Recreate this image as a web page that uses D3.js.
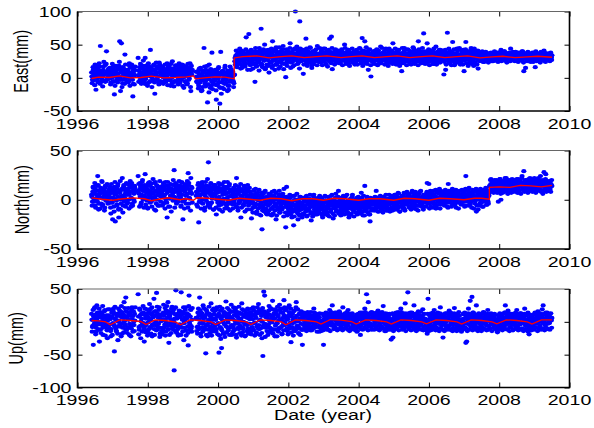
<!DOCTYPE html>
<html>
<head>
<meta charset="utf-8">
<script src="https://cdn.jsdelivr.net/npm/d3@7"></script>
<style>
  body { margin: 0; background: #fff; }
  text { font-family: "Liberation Sans", Arial, sans-serif; fill: #000; }
</style>
</head>
<body>
<svg id="chart" width="594" height="428"></svg>
<script>
// Samples every 0.025 yr from 1996.4; one row = half a year (20 samples), null = data gap.
// Sets "B" and "C" are the samples that fall a third and two thirds of a step later.
const startYear = 1996.4, step = 0.025;

const eastRows = [
  [8,-3,12,5,20,-18,2,15,0,7,48,-6,10,3,24,-5,6,40,-2,11],
  [4,14,-7,9,1,18,-25,6,11,-3,16,2,55,-20,52,8,-2,13,35,5],
  [-6,10,3,22,-1,8,15,-28,5,12,null,null,null,30,2,9,-4,17,6,26],
  [13,30,1,7,-8,18,9,42,4,11,-2,20,-24,6,14,0,8,23,-5,10],
  [3,16,-7,9,12,1,22,-3,7,15,-12,5,25,2,10,-6,18,4,13,-1],
  [8,-4,14,20,2,-15,10,6,17,-8,3,12,22,-20,5,null,null,null,null,9],
  [-5,10,-12,3,15,-20,0,8,45,-9,12,-3,-37,6,20,-15,2,38,-7,4],
  [-10,7,-33,2,14,-6,-39,39,5,-15,9,-2,18,-8,1,11,-18,6,-4,13],
  [-3,6,-8,25,33,18,30,38,22,28,41,15,31,26,36,20,61,29,34,66],
  [27,12,35,22,31,40,-6,28,18,33,25,45,30,74,20,36,27,50,15,32],
  [30,42,8,35,24,38,55,19,33,28,46,22,36,14,31,40,26,34,48,21],
  [36,1,29,40,24,34,52,30,38,17,33,44,100,28,35,22,39,85,31,26],
  [33,6,40,27,59,31,22,37,29,45,34,19,36,28,41,25,32,48,30,35],
  [31,38,24,35,44,29,33,20,39,27,36,59,30,62,13,34,26,41,32,37],
  [29,36,33,22,40,31,27,38,50,25,34,30,42,21,35,28,37,33,26,39],
  [31,24,38,30,35,45,27,33,60,29,36,55,22,32,40,12,34,28,2,37],
  [30,35,26,41,32,20,37,29,34,47,25,33,38,28,31,44,23,36,30,34],
  [33,27,39,52,30,24,36,32,42,28,35,20,31,10,37,29,45,26,34,30],
  [31,36,25,40,33,28,46,22,35,30,38,27,55,32,24,39,29,34,67,31],
  [28,37,52,30,24,41,33,26,35,39,21,32,47,29,36,25,34,42,30,27],
  [33,5,38,12,29,68,31,24,40,35,27,54,32,19,37,30,44,26,34,29],
  [31,36,26,42,10,33,54,28,35,22,38,30,45,27,34,18,32,39,29,36],
  [14,30,35,27,33,38,29,24,34,31,37,26,32,28,35,30,33,25,36,31],
  [33,28,36,30,38,26,42,32,35,29,40,31,27,34,37,30,33,44,29,35],
  [32,27,35,30,38,25,33,29,36,31,40,28,10,34,15,30,37,26,33,31],
  [30,35,27,33,38,16,31,29,36,32,26,34,30,37,28,41,33,29,35,31],
  [32,27,35,30,34]
];
const eastRowsB = [
  [2,9,-4,6,14,0,11,-7,5,17,3,8,-2,12,6,19,-5,9,1,13],
  [7,-1,10,4,15,-6,8,2,12,-3,6,18,0,9,13,-8,4,11,-2,7],
  [3,12,-5,8,16,1,6,-9,10,4,null,null,null,11,5,-3,14,7,0,9],
  [6,-2,11,3,15,8,-6,9,1,13,5,-4,10,7,17,2,-7,8,12,4],
  [9,1,13,-4,7,10,3,16,-2,6,11,0,8,14,-5,5,9,2,18,6],
  [4,11,-3,8,14,1,6,-7,12,3,9,-1,15,5,10,null,null,null,null,2],
  [1,-8,6,12,-3,4,-14,9,0,-5,7,-10,3,11,-2,5,-12,8,-6,2],
  [-4,5,-11,9,-1,3,-15,6,-7,10,0,-9,4,-3,8,-12,2,-6,7,-2],
  [2,-5,4,30,24,35,27,32,21,38,29,33,25,36,28,22,34,30,39,26],
  [33,24,38,29,21,35,27,40,31,23,36,28,34,19,32,37,26,30,41,29],
  [34,26,39,31,23,36,29,42,27,33,20,37,30,35,25,40,32,28,38,30],
  [31,37,26,34,40,29,35,23,38,32,27,36,30,42,33,25,37,31,28,39],
  [35,29,38,31,26,34,40,28,33,37,30,24,36,32,39,27,34,30,36,28],
  [34,28,37,31,25,35,30,39,33,27,36,29,34,31,38,26,33,30,35,32],
  [32,37,28,34,30,39,26,33,36,29,31,35,27,38,32,30,34,28,37,33],
  [33,29,36,31,27,38,32,25,35,30,37,28,33,40,31,34,29,36,30,32],
  [31,36,29,34,27,38,32,30,35,26,33,37,29,34,31,36,28,33,39,30],
  [32,29,35,31,37,27,34,30,38,28,33,36,31,25,35,32,29,37,30,34],
  [33,28,36,30,34,39,29,32,27,35,31,37,28,33,36,30,34,26,32,38],
  [31,35,28,33,37,30,26,34,32,38,29,35,31,27,36,33,30,37,28,34],
  [32,36,29,34,27,31,38,30,35,28,33,37,30,26,34,32,36,29,31,35],
  [33,29,36,31,38,28,32,35,30,34,27,37,31,33,29,36,32,30,35,28],
  [31,34,29,33,36,30,32,28,35,31,34,29,33,37,30,32,35,31,28,34],
  [32,35,30,34,29,36,31,33,37,30,34,28,35,32,31,36,29,33,34,30],
  [33,30,35,31,34,28,36,32,30,35,33,29,34,31,36,30,33,28,35,32],
  [31,34,29,36,32,30,35,33,28,34,31,37,30,33,35,29,32,36,30,34],
  [33,30,34,31]
];
const eastRowsC = [
  [-8,16,4,-11,19,7,-4,13,22,-9,10,1,-13,17,5,-6,21,9,-2,14],
  [15,-10,6,21,-5,11,-12,18,3,-7,13,24,-3,8,-14,16,10,-9,20,1],
  [12,-7,19,-12,6,20,-3,11,-10,17,null,null,null,-6,16,21,-9,4,18,-5],
  [-9,18,6,-12,22,10,-5,15,-14,4,19,-7,12,23,-3,16,-10,20,7,-6],
  [17,-9,5,20,-6,13,-11,18,9,-4,21,-8,14,-13,3,19,-5,11,-10,22],
  [-7,15,3,-12,19,9,-5,16,-10,21,-3,7,-14,18,12,null,null,null,null,-6],
  [9,-16,14,-7,5,-19,11,-4,17,-13,3,18,-10,-22,8,13,-6,-17,10,-2],
  [12,-19,4,-9,16,-14,7,-24,10,-3,-17,15,-8,6,-20,9,-12,17,-5,3],
  [9,-14,5,20,41,16,37,24,44,14,35,19,40,23,17,43,27,12,38,22],
  [19,42,25,14,38,21,45,17,36,24,11,41,22,39,16,43,26,13,37,20],
  [41,18,37,23,44,15,39,26,12,42,20,38,24,46,17,35,22,43,13,37],
  [22,43,18,38,26,45,15,37,24,42,19,36,27,47,21,39,14,44,25,40],
  [42,20,37,25,44,18,39,23,46,26,15,40,21,38,27,43,19,36,24,45],
  [23,41,19,38,26,44,21,36,17,42,25,39,22,45,28,37,20,43,24,40],
  [41,22,38,25,43,19,36,27,45,21,39,24,42,18,37,26,44,23,40,20],
  [24,42,20,37,27,44,22,39,18,41,25,36,46,21,38,26,43,19,37,24],
  [40,21,38,26,43,19,41,24,36,22,45,27,39,20,42,25,37,18,44,23],
  [25,41,21,38,27,44,20,39,23,42,18,37,26,45,22,40,24,36,19,43],
  [42,23,39,20,37,26,44,21,41,24,38,19,43,27,36,22,45,25,40,21],
  [22,40,25,43,19,38,27,41,21,44,24,37,20,39,26,42,23,36,28,41],
  [39,24,42,20,37,26,44,22,40,19,38,25,43,21,36,27,41,23,45,20],
  [24,41,20,38,26,43,22,40,18,37,25,42,21,39,27,44,23,36,20,41],
  [38,25,36,27,40,24,35,28,39,26,37,23,34,29,38,25,36,27,40,26],
  [27,38,24,36,29,39,25,35,28,40,26,37,23,34,30,38,25,36,28,39],
  [37,25,39,27,35,24,38,28,36,26,40,23,34,29,37,25,39,27,35,24],
  [26,38,24,36,28,40,25,35,29,37,23,39,27,34,26,38,24,36,29,37],
  [36,25,38,27]
];

const northRows = [
  [5,-2,12,8,-6,15,2,24,-10,6,10,-4,18,1,9,-8,14,3,7,-3],
  [4,11,-14,7,-20,2,13,-22,6,-5,16,-18,9,-10,3,22,-6,12,0,8],
  [10,-3,15,5,19,-7,8,12,0,14,null,null,null,24,6,17,-5,11,20,3],
  [9,26,2,14,-9,7,18,4,-2,12,21,0,8,-11,15,5,10,-6,13,3],
  [6,14,-4,10,18,1,-18,9,12,-7,16,4,8,20,30,2,11,-3,15,7],
  [3,12,-6,17,-20,9,0,14,5,19,27,-4,10,22,6,null,null,null,null,4],
  [8,15,-23,4,12,-3,18,6,10,-8,14,2,21,38,9,-5,16,3,11,-10],
  [5,13,-15,2,9,-6,15,0,11,-12,7,18,-4,6,12,-9,3,16,-2,8],
  [4,-5,10,1,14,22,-8,6,-2,11,-18,3,8,-6,13,0,5,-10,9,-3],
  [-2,6,-19,3,-8,10,-4,1,-12,7,-1,-15,4,-6,-30,2,-9,8,-3,-14],
  [-5,3,-11,6,-2,-16,1,-7,9,-4,-20,0,-9,5,-13,-1,4,-8,-3,11],
  [-3,-28,13,-8,-1,-14,2,-6,-18,-10,-26,4,-5,-12,0,-20,-7,3,-15,-9],
  [-6,-14,0,-9,3,-17,-4,-11,1,-7,-21,-2,-13,5,-8,-15,-3,-10,2,-6],
  [-4,-10,1,-18,-7,-13,3,-2,-9,-16,0,-6,-12,4,-5,-19,-1,-8,6,-11],
  [-5,9,-12,-2,-8,-15,1,-6,-10,3,-14,-4,-7,-18,0,-9,-3,5,-11,-6],
  [-4,-9,2,-13,-6,0,-10,7,-3,-16,-8,14,-5,-12,1,-7,-15,-22,-2,-9],
  [-5,1,-9,-3,9,-7,-1,-12,3,-6,-2,-10,2,-4,-8,5,-3,-11,0,-5],
  [-3,3,-8,1,-10,5,-5,-1,-9,7,-2,-12,2,-4,-7,4,-9,0,-3,8],
  [-1,5,-7,2,-3,9,-8,3,-2,6,-10,0,4,-6,8,-2,2,-7,5,-1],
  [0,6,17,-3,16,3,-7,5,-1,9,-4,2,-9,7,0,-2,11,-5,4,1],
  [2,-4,7,-1,4,-7,16,3,-3,9,0,-5,5,-2,8,-8,2,6,-3,3],
  [3,-3,8,0,6,-6,24,4,-2,10,1,-5,7,-1,5,-9,3,9,-12,0],
  [-10,4,-4,7,0,-7,3,6,-2,9,-5,2,5,14,20,11,17,8,15,19],
  [12,18,9,-2,16,21,0,13,7,19,15,11,22,14,8,17,12,20,10,16],
  [13,18,9,16,21,11,15,7,19,14,24,10,29,17,12,20,8,16,13,22],
  [15,10,19,12,22,8,17,13,20,11,16,24,14,9,18,28,12,26,15,19],
  [13,17,11,16,14]
];
const northRowsB = [
  [3,8,-2,6,11,0,5,14,-4,9,2,7,-6,10,4,12,-1,6,8,1],
  [6,-3,9,2,12,-7,5,8,-1,11,3,-9,7,0,10,4,13,-2,6,9],
  [5,11,0,8,14,2,-4,9,6,12,null,null,null,7,10,3,15,5,9,12],
  [4,12,7,-1,10,5,14,8,2,11,6,17,3,9,0,12,7,4,10,6],
  [8,3,12,5,-2,10,7,14,1,9,4,11,6,15,3,8,13,0,10,5],
  [7,2,10,5,13,-1,8,4,11,6,15,2,9,7,12,null,null,null,null,8],
  [6,11,2,9,5,14,0,8,12,4,10,7,-3,9,13,5,8,1,11,6],
  [4,9,0,7,12,3,8,-2,10,5,1,9,6,13,2,7,-4,10,4,8],
  [3,7,-1,5,9,2,6,-4,8,1,4,10,0,5,-3,7,2,9,-1,4],
  [1,-4,5,-2,3,-7,2,6,-5,0,4,-8,1,-3,5,-6,2,-1,-9,3],
  [-1,-6,3,-4,1,-9,-2,4,-7,0,-5,2,-10,-3,1,-6,-1,-8,3,-4],
  [-2,-7,1,-5,-10,-3,2,-8,-4,-12,-1,-6,0,-9,-4,-2,-11,-5,1,-7],
  [-3,-8,-1,-6,-11,-2,-5,-9,0,-4,-7,-13,-3,-6,-1,-9,-5,-2,-8,-4],
  [-5,-2,-9,-4,-1,-7,-11,-3,-6,-8,-2,-5,-10,-4,-1,-7,-3,-9,-5,-2],
  [-4,-7,-1,-6,-10,-3,-5,-2,-8,-4,-6,-1,-9,-3,-5,-8,-2,-6,-4,-7],
  [-3,-6,-1,-5,-8,-2,-4,-7,0,-5,-3,-9,-1,-4,-6,-2,-8,-3,-5,-1],
  [-2,-5,0,-4,-7,-1,-3,-6,1,-4,-2,-8,0,-3,-5,-1,-6,-2,-4,1],
  [-1,-4,1,-3,-6,0,-2,-5,2,-3,-1,-7,1,-2,-4,0,-5,-1,-3,2],
  [0,-3,2,-2,-5,1,-1,-4,3,-2,0,-6,2,-1,-3,1,-4,0,-2,3],
  [1,-2,3,-1,-4,2,0,-3,4,-1,1,-5,3,0,-2,2,-3,1,-1,4],
  [2,-1,4,0,-3,3,1,-2,5,0,2,-4,4,1,-1,3,-2,2,0,5],
  [2,0,5,1,-2,4,2,-1,6,1,3,-3,5,2,0,4,-1,3,1,6],
  [3,0,5,1,-2,4,2,-1,6,1,3,-2,4,13,16,12,15,14,11,17],
  [14,11,16,13,15,10,17,12,14,16,13,18,11,15,14,12,17,13,15,16],
  [15,12,17,14,16,11,18,13,15,14,17,12,16,19,13,15,14,18,12,16],
  [14,17,12,16,15,13,18,14,16,12,17,15,13,19,14,16,15,12,17,14],
  [15,13,16,14]
];
const northRowsC = [
  [-6,13,1,17,-8,9,-2,15,4,-9,12,19,-5,7,-11,14,0,16,-4,10],
  [13,-8,16,-3,10,-12,18,0,-6,14,-10,7,19,-4,11,-13,15,2,-7,17],
  [-4,16,-9,12,1,17,-6,14,-2,9,null,null,null,16,-7,13,-3,18,0,-8],
  [15,-5,11,-8,17,2,-3,16,-7,12,1,-10,18,-4,14,-6,9,19,-2,13],
  [-6,17,2,-9,14,-3,18,-7,11,4,-12,15,-1,10,-8,17,-4,13,-2,19],
  [14,-7,18,-2,11,-9,16,-4,12,-8,17,1,-11,13,-3,null,null,null,null,-5],
  [-7,17,-2,13,-9,16,-4,11,-11,18,-1,14,-6,10,-8,17,-3,12,-10,15],
  [15,-8,12,-3,17,-10,9,-5,16,-2,13,-9,11,-6,18,-1,14,-11,10,-4],
  [-9,12,-4,15,-7,10,-11,13,-2,16,-8,9,-5,14,-12,11,-3,15,-6,12],
  [8,-10,5,-13,9,-7,11,-14,4,-9,10,-5,-16,7,-11,6,-12,9,-4,-15],
  [-12,6,-15,3,-9,8,-14,4,-11,7,-16,2,-8,9,-13,5,-10,6,-17,1],
  [-13,3,-16,-1,-11,5,-15,-3,-12,4,-17,0,-9,6,-14,-2,-16,3,-10,-18],
  [2,-15,-1,-12,4,-16,-3,-11,5,-14,-1,-17,3,-10,-13,1,-15,-2,-12,4],
  [-14,2,-16,-3,-11,4,-15,-1,-13,3,-17,-2,-10,5,-14,0,-16,2,-12,-4],
  [3,-14,-1,-16,2,-12,4,-15,-3,-11,5,-13,-2,-16,1,-14,3,-10,-17,0],
  [-13,1,-15,3,-11,-2,-14,2,-12,4,-16,-1,-10,3,-13,0,-15,2,-11,-3],
  [1,-11,3,-9,-1,-12,2,-8,4,-10,0,-13,3,-7,-2,-11,1,-9,5,-12],
  [-9,4,-11,2,-7,5,-10,3,-8,6,-12,1,-6,4,-9,7,-11,2,-5,5],
  [6,-8,3,-10,7,-5,4,-9,8,-6,2,-11,6,-4,9,-7,3,-10,5,-3],
  [-7,8,-4,6,-9,9,-3,7,-8,5,-5,10,-6,8,-2,6,-9,9,-4,7],
  [8,-6,10,-3,7,-8,9,-2,6,-7,11,-4,8,-5,10,-1,7,-9,9,-3],
  [-5,10,-2,8,-7,11,-1,9,-6,12,-3,7,-8,10,0,8,-4,11,-6,9],
  [9,-6,11,-3,8,-7,10,-1,12,-5,9,-4,7,8,21,10,18,7,20,9],
  [20,7,18,9,21,6,19,10,17,8,22,11,19,6,20,9,18,7,21,10],
  [8,20,10,18,7,21,9,19,6,22,11,17,8,20,10,18,7,21,9,19],
  [20,8,18,10,21,7,19,9,22,11,17,8,20,6,19,10,21,8,18,9],
  [9,19,8,20]
];

const upRows = [
  [12,-8,-35,20,3,-15,25,-4,9,-30,15,-11,6,-20,1,18,-6,10,-25,4],
  [-10,8,-22,14,-3,20,-45,5,-14,11,-28,2,17,-7,24,-18,6,30,-5,37],
  [-12,15,3,-20,9,-6,22,-15,0,12,null,null,null,42,-8,18,-25,5,-3,14],
  [-30,10,-5,19,-16,4,27,-9,13,-22,8,35,-2,16,44,-12,6,22,-18,1],
  [11,-14,26,3,-21,17,-6,30,-32,9,-2,20,-11,14,-74,5,48,-17,12,-8],
  [-20,7,45,-9,15,-28,2,22,-13,10,-36,40,-4,18,-15,null,null,null,null,6],
  [-8,14,4,37,-18,9,-3,25,-11,6,-48,17,-22,1,12,-7,28,-15,3,20],
  [5,-12,18,-4,10,-47,23,-26,-40,8,-1,15,-17,31,3,-9,12,-20,7,26],
  [-6,16,-13,2,21,-24,9,-3,14,-10,5,28,-16,0,11,-21,7,-5,19,-12],
  [4,-15,12,-8,22,-2,9,-19,15,-6,27,-11,3,18,-25,-52,46,40,-9,10],
  [13,-7,24,1,-16,8,32,-12,5,19,-4,-22,10,2,26,-9,15,-18,6,33],
  [-5,18,3,-14,9,25,-8,-31,12,-2,16,-10,6,30,-6,1,-18,11,4,-12],
  [-35,8,-4,12,2,-10,15,-2,5,-13,9,0,-6,20,3,-8,11,-1,6,-15],
  [-6,-14,2,-9,-35,4,-3,10,-12,7,0,18,-5,13,25,3,-7,14,8,-2],
  [6,-4,16,1,-10,9,22,-3,5,12,-8,2,18,-1,7,-12,10,0,-6,4],
  [-8,3,-15,8,-4,11,-20,5,14,-2,9,20,1,42,6,30,-7,12,-3,15],
  [4,-6,13,0,8,-11,17,2,-4,10,-9,6,24,-1,5,-14,9,1,-7,12],
  [-3,-27,-10,-24,6,-5,12,2,-8,15,4,-2,20,7,-6,11,0,28,9,-4],
  [45,5,-7,14,2,-3,10,25,-9,6,1,-12,16,3,-5,8,-1,19,-8,4],
  [-10,2,-18,35,-4,9,-13,5,12,-6,18,0,7,-9,14,3,-2,22,6,-5],
  [-24,8,1,-6,13,4,-10,17,2,-3,10,-14,6,21,-1,9,-7,3,15,-4],
  [-6,-15,4,-3,11,-9,-32,-30,7,20,2,32,-4,38,14,0,9,-7,25,5],
  [3,-8,12,0,7,-12,15,4,-2,9,-6,18,2,-10,6,11,-4,1,8,-7],
  [-9,1,-16,5,-4,10,-11,8,2,-6,14,25,4,-2,17,7,-8,12,0,6],
  [5,-5,11,2,18,-8,7,0,13,-3,9,-12,4,20,-6,10,1,-15,-19,6],
  [-12,-4,7,-9,3,12,-2,8,16,0,-7,10,5,19,25,2,-5,14,6,-3],
  [8,-2,12,3,6]
];
const upRowsB = [
  [3,-6,8,-2,11,-9,5,0,-12,7,-4,13,1,-7,9,-3,6,-10,2,10],
  [-5,4,-11,8,-2,12,-7,3,-14,9,0,-6,14,-3,7,-9,11,1,-4,16],
  [6,-8,11,-3,15,-10,4,9,-5,2,null,null,null,8,-12,10,1,-6,13,-2],
  [-7,5,-13,9,-1,14,-8,3,11,-4,7,-11,16,0,-6,12,-3,8,-9,4],
  [2,-10,9,-4,13,-1,6,-12,10,-6,4,15,-8,1,-3,11,-7,5,-11,8],
  [-4,9,-8,3,12,-2,7,-13,5,-7,11,-1,8,-10,3,null,null,null,null,5],
  [4,-7,10,-2,14,-9,6,1,-12,9,-4,12,-6,3,-1,8,-10,5,-3,11],
  [-6,3,-11,8,-2,11,-8,5,-13,2,9,-4,13,-7,6,-1,10,-9,4,-5],
  [5,-8,10,-3,13,-1,7,-11,3,-6,12,0,-9,8,-4,11,-2,6,-10,9],
  [-3,8,-9,4,-12,10,-1,6,-7,13,-5,2,-10,9,0,-6,11,-3,7,-8],
  [6,-4,11,-9,3,-1,9,-12,5,-6,12,-2,8,-10,4,14,-7,1,-4,10],
  [-2,7,-10,4,-5,11,-1,8,-8,3,-12,6,0,9,-6,2,-9,5,-3,10],
  [3,-5,7,-1,9,-6,4,-3,8,0,-8,5,-2,10,-4,6,-7,2,-1,7],
  [-4,-9,1,-6,-2,5,-7,3,-1,8,-4,6,0,9,-3,7,-5,4,2,-2],
  [5,-2,8,0,-5,6,2,-4,9,1,-3,7,-6,4,10,-1,6,-3,3,0],
  [-5,-1,-8,3,-3,6,-6,8,1,-2,9,4,-4,7,0,10,-2,5,-7,6],
  [3,-4,7,-1,5,-6,8,0,-3,6,-7,4,9,-2,2,-5,7,1,-4,5],
  [-2,-6,2,-8,4,-3,6,-1,8,-5,3,0,9,-4,5,-2,7,1,-6,4],
  [6,-1,4,-5,8,0,-3,7,2,-6,5,-2,9,1,-4,6,-1,3,-7,5],
  [-3,-7,1,-5,4,-2,6,-8,3,0,7,-4,5,-1,8,-3,2,6,-5,1],
  [4,-3,7,0,-5,5,2,-6,8,-1,3,-4,6,1,-2,7,-5,4,0,-3],
  [-2,-6,3,-4,5,-1,7,-3,2,6,-5,4,0,8,-2,5,-4,3,1,-1],
  [4,-2,6,-5,3,1,-3,7,0,-4,5,2,-6,8,-1,3,-3,6,-2,4],
  [-4,-7,1,-3,5,-6,3,0,7,-2,4,-5,6,1,-3,5,-1,8,-4,2],
  [3,-3,6,0,-5,4,2,-4,7,-1,5,-2,8,0,-6,3,-2,5,-5,1],
  [-6,-2,3,-4,5,1,-3,6,0,4,-5,7,2,-1,5,-3,3,6,-2,4],
  [4,0,6,2]
];
const upRowsC = [
  [-15,18,-6,22,-19,8,14,-12,20,-3,-17,11,24,-8,16,-21,6,-13,19,-4],
  [19,-14,7,-20,16,-5,23,-10,12,-18,20,-7,9,-22,15,-2,-16,21,-11,8],
  [-17,21,-9,13,-22,18,-4,16,-14,22,null,null,null,-19,20,-6,12,-15,24,-10],
  [20,-16,13,-21,7,-11,19,-18,22,-6,15,-20,10,-13,23,-8,18,-23,11,-14],
  [-19,14,-8,21,-15,24,-11,16,-20,12,-17,23,-7,19,-13,22,-16,9,-21,17],
  [16,-20,12,-15,22,-9,18,-21,13,-17,24,-12,19,-7,21,null,null,null,null,-14],
  [-18,20,-11,17,-22,13,-15,21,-8,19,-20,14,-12,23,-17,11,-21,18,-9,16],
  [19,-15,22,-19,12,-21,17,-10,20,-18,14,-23,11,-16,21,-13,18,-8,15,-20],
  [-16,22,-12,18,-20,15,-9,23,-17,13,-21,19,-11,17,-22,14,-14,20,-18,12],
  [15,-19,20,-13,17,-21,12,-16,22,-10,18,-20,14,-17,21,-8,16,-23,13,-14],
  [-20,17,-14,21,-11,19,-18,13,-22,16,-12,23,-15,18,-9,20,-19,14,-13,22],
  [18,-13,21,-19,15,-10,20,-16,12,-21,17,-14,22,-11,19,-17,13,-20,16,-12],
  [-12,14,-9,11,-14,13,-6,12,-11,15,-13,8,-10,14,-7,12,-15,10,-8,13],
  [-14,-10,12,-13,9,-11,14,-8,13,-12,10,-14,15,-6,12,-11,11,-9,14,-13],
  [12,-11,14,-8,11,-13,9,-10,13,-7,15,-12,10,-14,12,-9,13,-11,8,-12],
  [-13,11,-14,12,-9,14,-11,10,-12,13,-8,15,-10,12,-13,11,-7,14,-12,10],
  [11,-12,13,-9,14,-11,10,-13,12,-8,15,-10,11,-14,13,-9,12,-12,10,-11],
  [-12,-8,13,-14,10,-11,14,-9,12,-13,11,-7,15,-12,9,-10,13,-14,12,-8],
  [13,-11,10,-13,14,-8,12,-12,11,-14,13,-9,10,-11,15,-12,9,-13,12,-10],
  [-13,-9,12,-14,11,-10,13,-12,14,-8,10,-13,12,-11,9,-14,13,-9,11,-12],
  [11,-14,13,-10,12,-12,9,-11,14,-13,10,-9,13,-12,11,-14,12,-10,9,-11],
  [-10,-13,12,-11,14,-9,11,-14,13,-12,10,-8,12,-13,14,-10,11,-12,9,-14],
  [13,-10,11,-14,12,-9,14,-11,10,-13,12,-12,9,-10,13,-14,11,-9,12,-11],
  [-11,-14,10,-12,13,-9,11,-13,12,-10,14,-11,9,-12,13,-14,10,-9,12,-13],
  [12,-11,14,-9,10,-13,11,-12,13,-10,9,-14,12,-11,10,-13,14,-9,11,-12],
  [-13,-10,11,-12,14,-9,12,-14,10,-11,13,-12,9,-10,12,-13,11,-9,14,-11],
  [10,-12,13,-9]
];

// Fitted model (red line), [year, mm]
const eastModel = [[1996.4,-1],[1996.6,1],[1996.9,0.5],[1997.2,3],[1997.5,0],[1997.8,0.5],[1998.1,2.5],[1998.45,0],
  [1998.8,0.5],[1999.1,1.5],[1999.3,3],[1999.35,-1.5],[1999.6,0],[1999.9,1.5],[2000.2,1],[2000.46,-1.5],[2000.46,30],
  [2000.7,32],[2001.1,33],[2001.45,30],[2001.8,32],[2002.1,33],[2002.45,30.5],[2002.8,32],[2003.1,33],[2003.5,30.5],
  [2003.8,32],[2004.1,33],[2004.45,30.5],[2004.8,32],[2005.1,33],[2005.45,30.5],[2005.8,32],[2006.1,33],[2006.45,30.5],
  [2006.8,32],[2007.1,33],[2007.45,30],[2007.8,31.5],[2008.1,32.5],[2008.45,30.5],[2008.8,31.5],[2009.1,32.5],[2009.5,31]];

const northModel = [[1996.4,2],[1996.7,0.5],[1997.0,-0.5],[1997.3,1],[1997.6,2],[1997.9,1],[1998.1,-1],[1998.4,1],
  [1998.6,2],[1998.9,0],[1999.1,1],[1999.3,-0.5],[1999.4,2],[1999.7,1.5],[2000.0,0.5],[2000.3,-0.5],[2000.6,1.5],
  [2000.9,0.5],[2001.2,-0.5],[2001.5,1.5],[2001.8,1],[2002.1,-1],[2002.4,1],[2002.7,1],[2003.0,-0.5],[2003.3,1.5],
  [2003.6,1],[2004.0,-0.5],[2004.3,1],[2004.6,1],[2005.0,-0.5],[2005.3,1.5],[2005.6,1],[2006.0,-0.5],[2006.3,1.5],
  [2006.6,1],[2007.0,0],[2007.3,1.5],[2007.5,1.5],[2007.72,0.5],[2007.72,12.5],[2008.0,13],[2008.3,12.5],
  [2008.6,14.5],[2008.9,14],[2009.2,13],[2009.5,14.5]];

const upModel = [[1996.4,2],[1996.6,1.5],[1996.8,0],[1996.93,-4.5],
  [1997.2,3],[1997.5,2],[1997.8,0.5],[1997.95,-4],
  [1998.2,3],[1998.5,2],[1998.8,-0.5],[1998.93,-4.5],
  [1999.2,3],[1999.5,2],[1999.8,0],[1999.93,-4],
  [2000.2,3],[2000.5,2],[2000.8,0],[2000.93,-4],
  [2001.2,3],[2001.5,2],[2001.8,0],[2001.93,-4.5],
  [2002.2,3],[2002.5,2],[2002.8,0],[2002.93,-3.5],
  [2003.2,3.5],[2003.5,2.5],[2003.8,0.5],[2003.93,-3.5],
  [2004.2,3],[2004.5,2],[2004.8,0],[2004.93,-3.5],
  [2005.2,3],[2005.5,2],[2005.8,0],[2005.93,-3],
  [2006.2,3],[2006.5,2],[2006.8,0],[2006.93,-3.5],
  [2007.2,3],[2007.5,2],[2007.8,0],[2007.93,-3],
  [2008.2,3],[2008.5,2],[2008.8,0],[2008.93,-3.5],
  [2009.2,3],[2009.5,3]];

const yearTicks = [1996, 1998, 2000, 2002, 2004, 2006, 2008, 2010];

const panels = [
  { label: "East(mm)", rows: [eastRows, eastRowsB, eastRowsC], model: eastModel, domain: [-50, 100], ticks: [-50, 0, 50, 100], top: 11.5, bottom: 111, labelX: 28 },
  { label: "North(mm)", rows: [northRows, northRowsB, northRowsC], model: northModel, domain: [-50, 50], ticks: [-50, 0, 50], top: 150.5, bottom: 249, labelX: 29 },
  { label: "Up(mm)", rows: [upRows, upRowsB, upRowsC], model: upModel, domain: [-100, 50], ticks: [-100, -50, 0, 50], top: 289, bottom: 387.5, labelX: 22.5 }
];

const svg = d3.select("#chart");
const x = d3.scaleLinear().domain([1996, 2010]).range([77.5, 569.5]);
const stretch = 1.35;   // the original figure is stretched horizontally
const fontSize = 14.5;

function stretchedText(px, py, str, anchor, rotate) {
  const g = svg.append("g")
    .attr("transform", `translate(${px},${py}) scale(${stretch},1)` + (rotate ? " rotate(-90)" : ""));
  g.append("text").attr("text-anchor", anchor).attr("font-size", fontSize).text(str);
}

panels.forEach(p => {
  const y = d3.scaleLinear().domain(p.domain).range([p.bottom, p.top]);
  const pts = [];
  p.rows.forEach((set, s) => {
    set.flat().forEach((v, i) => {
      if (v !== null) pts.push({ t: startYear + (i + s / 3) * step, v: v });
    });
  });

  const g = svg.append("g");

  // blue observations
  g.selectAll("ellipse").data(pts).join("ellipse")
    .attr("cx", d => x(d.t)).attr("cy", d => y(d.v))
    .attr("rx", 2.6).attr("ry", 2.1)
    .attr("fill", "#0000ff");

  // red model
  g.append("path")
    .datum(p.model)
    .attr("fill", "none").attr("stroke", "#ff0000").attr("stroke-width", 1.3)
    .attr("d", d3.line().x(d => x(d[0])).y(d => y(d[1])));

  // inward ticks on all four sides
  const tickLen = 5;
  const axes = [
    d3.axisBottom(x).tickValues(yearTicks), d3.axisTop(x).tickValues(yearTicks),
    d3.axisLeft(y).tickValues(p.ticks), d3.axisRight(y).tickValues(p.ticks)
  ];
  const offsets = [`0,${p.bottom}`, `0,${p.top}`, `${x.range()[0]},0`, `${x.range()[1]},0`];
  axes.forEach((a, k) => {
    const ag = g.append("g").attr("transform", `translate(${offsets[k]})`)
      .call(a.tickSize(-tickLen).tickFormat(""));
    ag.select(".domain").remove();
    ag.selectAll("line").attr("stroke", "#000").attr("stroke-width", 1);
  });

  // box
  const [x0, x1] = x.range();
  g.append("line").attr("x1", x0).attr("x2", x1).attr("y1", p.top).attr("y2", p.top)
    .attr("stroke", "#666").attr("stroke-width", 1);
  g.append("path")
    .attr("d", `M${x0},${p.top}V${p.bottom}H${x1}V${p.top}`)
    .attr("fill", "none").attr("stroke", "#000").attr("stroke-width", 1.6);

  // tick labels
  yearTicks.forEach(t => stretchedText(x(t), p.bottom + 17.5, String(t), "middle"));
  p.ticks.forEach(v => stretchedText(71.5, y(v) + 5, String(v), "end"));

  stretchedText(p.labelX, (p.top + p.bottom) / 2, p.label, "middle", true);
});

stretchedText(323, 420, "Date (year)", "middle");
</script>
</body>
</html>
